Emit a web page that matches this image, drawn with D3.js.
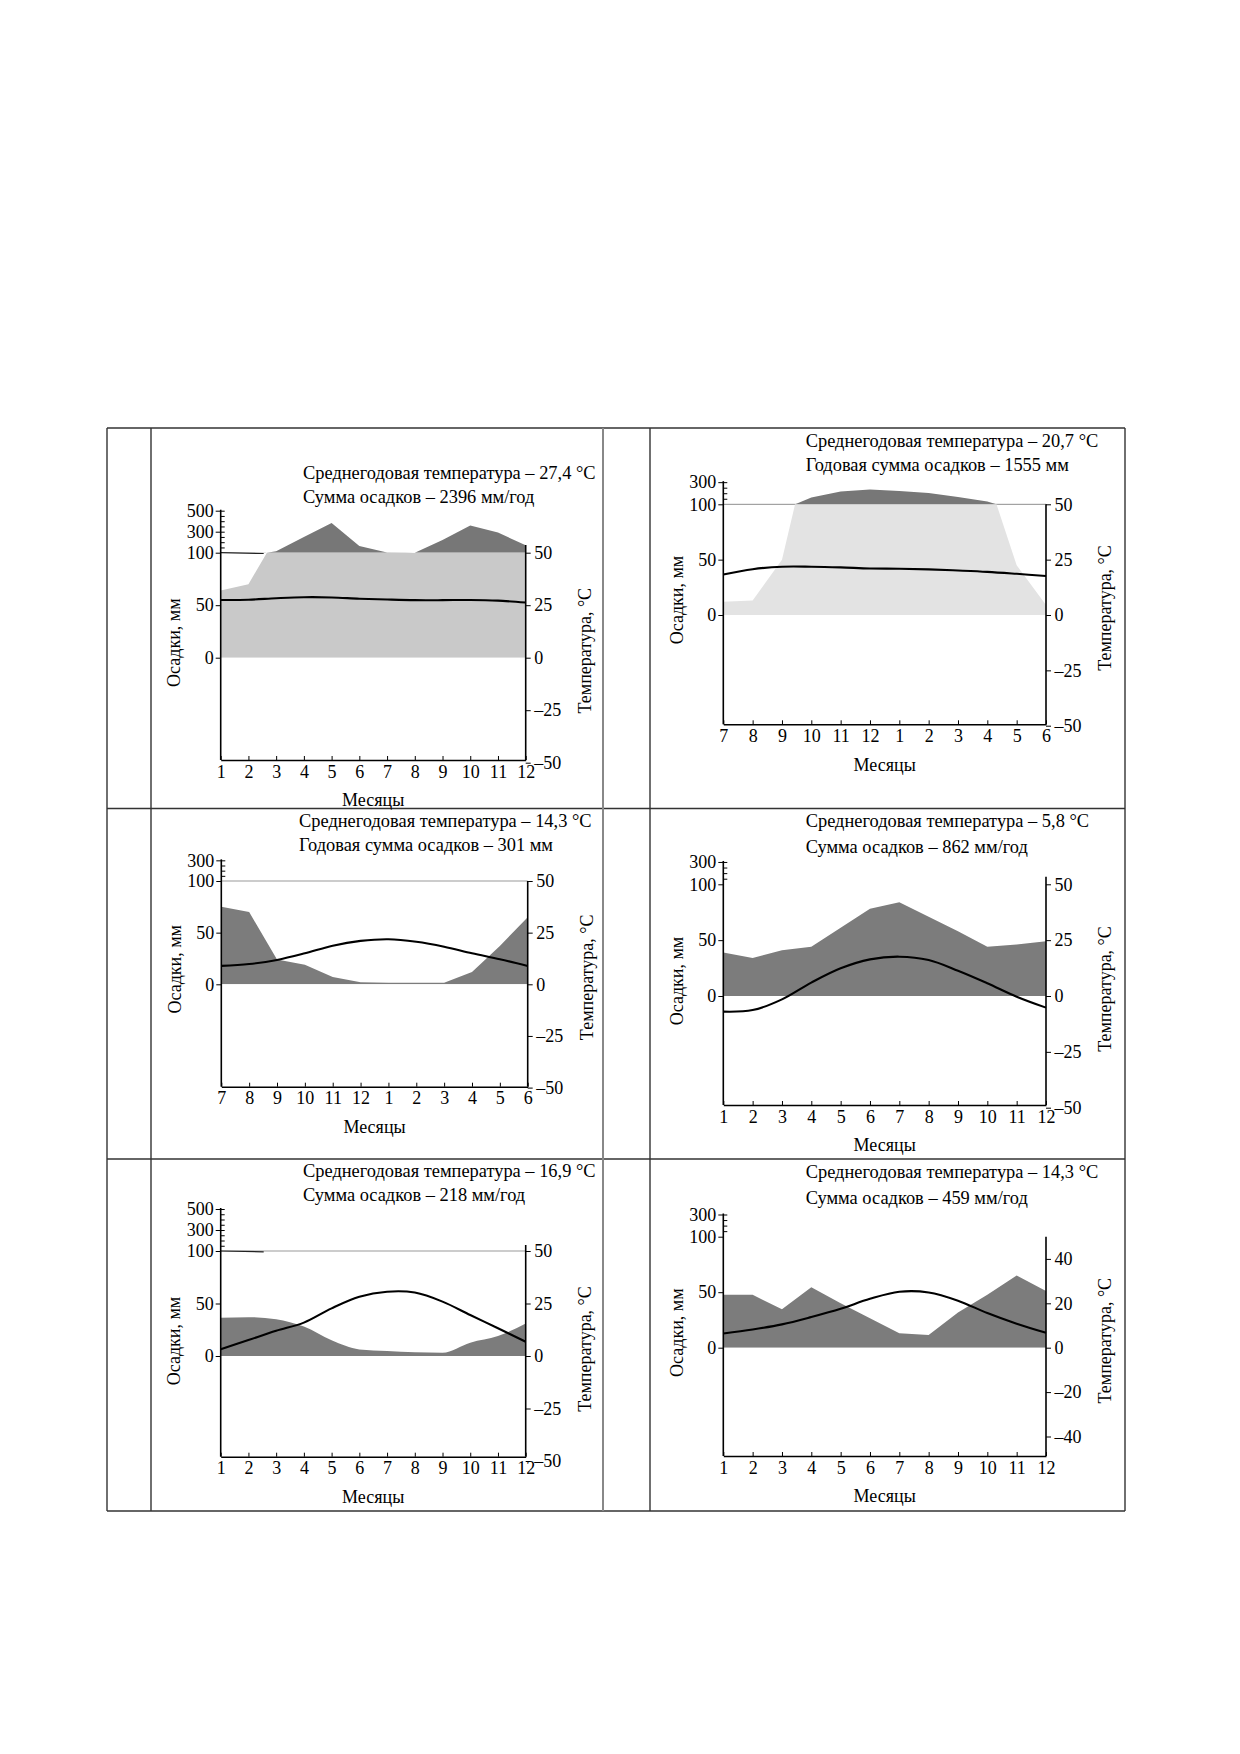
<!DOCTYPE html>
<html>
<head>
<meta charset="utf-8">
<script src="https://cdn.jsdelivr.net/npm/d3@7"></script>
<style>
  body { margin: 0; background: #fff; }
  svg text { font-family: "Liberation Serif", "Times New Roman", serif; fill: #000; }
  .title { font-size: 18.4px; }
  .axis-title { font-size: 18px; }
</style>
</head>
<body>
<svg id="chart" width="1240" height="1754"></svg>
<script>
// month order on the x axis
var monthsJanDec = [1, 2, 3, 4, 5, 6, 7, 8, 9, 10, 11, 12];
var monthsJulJun = [7, 8, 9, 10, 11, 12, 1, 2, 3, 4, 5, 6];

var titleTemp = [
  "Среднегодовая температура – 27,4 °C",
  "Среднегодовая температура – 20,7 °C",
  "Среднегодовая температура – 14,3 °C",
  "Среднегодовая температура – 5,8 °C",
  "Среднегодовая температура – 16,9 °C",
  "Среднегодовая температура – 14,3 °C"
];
var titleRain = [
  "Сумма осадков – 2396 мм/год",
  "Годовая сумма осадков – 1555 мм",
  "Годовая сумма осадков – 301 мм",
  "Сумма осадков – 862 мм/год",
  "Сумма осадков – 218 мм/год",
  "Сумма осадков – 459 мм/год"
];

// precipitation, mm (in the order of the month labels)
var rain1 = [64, 70, 115, 250, 383, 163, 102, 100, 222, 358, 292, 170];
var rain2 = [12, 13, 50, 162, 215, 233, 220, 203, 165, 125, 45, 9];
var rain3 = [75, 70, 24, 19, 7, 2, 1.5, 1.5, 1.5, 12, 37, 65];
var rain4 = [39, 34, 41, 44, 61, 78, 84, 71, 58, 44, 46, 49];
var rain5 = [36.5, 37, 35, 28, 15, 6.3, 4.8, 3.5, 3.2, 12.7, 19, 31];
var rain6 = [47.6, 47.6, 34.6, 54.5, 40, 26.5, 13, 11.5, 31.6, 47.6, 65, 51];

// temperature, °C
var temp1 = [27.5, 27.6, 28.3, 28.8, 28.7, 28.1, 27.7, 27.4, 27.4, 27.5, 27.2, 26.3];
var temp2 = [18.3, 20.7, 21.8, 21.8, 21.5, 21.0, 20.9, 20.6, 20.1, 19.5, 18.6, 17.6];
var temp3 = [8.9, 9.8, 11.8, 15.0, 18.7, 21.0, 21.8, 20.6, 18.2, 15.0, 12.1, 8.9];
var temp4 = [-7.0, -6.3, -1.5, 6.0, 12.4, 16.4, 17.6, 16.1, 11.3, 5.7, -0.3, -5.2];
var temp5 = [3.2, 7.6, 12.0, 15.9, 22.7, 28.2, 30.6, 30.2, 25.9, 19.5, 13.2, 6.8];
var temp6 = [6.4, 8.2, 10.5, 13.8, 17.5, 22.0, 25.2, 24.9, 21.2, 15.6, 10.8, 6.7];

var rainTicks500 = [0, 50, 100, 300, 500];
var rainTicks300 = [0, 50, 100, 300];
var tempTicks25 = [50, 25, 0, -25, -50];
var tempTicks20 = [40, 20, 0, -20, -40];

var labelRain = "Осадки, мм";
var labelTemp = "Температура, °C";
var labelMonth = "Месяцы";

var panelData = [
  { months: monthsJanDec, rain: rain1, temp: temp1, rTicks: rainTicks500, tTicks: tempTicks25 },
  { months: monthsJulJun, rain: rain2, temp: temp2, rTicks: rainTicks300, tTicks: tempTicks25 },
  { months: monthsJulJun, rain: rain3, temp: temp3, rTicks: rainTicks300, tTicks: tempTicks25 },
  { months: monthsJanDec, rain: rain4, temp: temp4, rTicks: rainTicks300, tTicks: tempTicks25 },
  { months: monthsJanDec, rain: rain5, temp: temp5, rTicks: rainTicks500, tTicks: tempTicks25 },
  { months: monthsJanDec, rain: rain6, temp: temp6, rTicks: rainTicks300, tTicks: tempTicks20 }
];

// page layout of each little chart
var layout = [
  { left: 220.7, right: 525.7, y0: 657.7, k: 1.05, bottom: 760, rTop: 545, tx: 303, ty: 472.7, gap: 23.4, low: "#c9c9c9", line100: false, stub: 1.55, smooth: false },
  { left: 723.3, right: 1046, y0: 615, k: 1.107, bottom: 724.3, rTop: 504.3, tx: 805.7, ty: 440.7, gap: 24.3, low: "#e3e3e3", line100: true, stub: 0, smooth: false },
  { left: 221.3, right: 527.7, y0: 984.3, k: 1.033, bottom: 1086.7, rTop: 881, tx: 299, ty: 820.7, gap: 23.6, low: "#7c7c7c", line100: true, stub: 0, smooth: false },
  { left: 723.3, right: 1046, y0: 996, k: 1.117, bottom: 1105, rTop: 876.7, tx: 805.7, ty: 820.7, gap: 26, low: "#7c7c7c", line100: false, stub: 0, smooth: false },
  { left: 220.7, right: 525.7, y0: 1356, k: 1.05, bottom: 1456.7, rTop: 1245, tx: 303, ty: 1170.7, gap: 23.6, low: "#7c7c7c", line100: true, stub: 1.55, smooth: true },
  { left: 723.3, right: 1046, y0: 1347.7, k: 1.11, bottom: 1456, rTop: 1236.7, tx: 805.7, ty: 1171.7, gap: 25.6, low: "#7c7c7c", line100: false, stub: 0, smooth: false }
];

var highColor = "#777";
var tickFont = "'Liberation Serif', 'Times New Roman', serif";

var svg = d3.select("#chart");

// table frame
var rowLines = [428, 808.5, 1159, 1511];
var colLines = [107, 151, 603, 650, 1125];
var frame = svg.append("g").attr("class", "frame");
frame.selectAll(".hline").data(rowLines).enter().append("line")
  .attr("x1", colLines[0]).attr("x2", colLines[colLines.length - 1])
  .attr("y1", function(d) { return d; }).attr("y2", function(d) { return d; })
  .style("stroke", "#333").style("stroke-width", 1.4);
frame.selectAll(".vline").data(colLines).enter().append("line")
  .attr("x1", function(d) { return d; }).attr("x2", function(d) { return d; })
  .attr("y1", rowLines[0]).attr("y2", rowLines[rowLines.length - 1])
  .style("stroke", function(d, i) { return i == 2 ? "#888" : "#333"; })
  .style("stroke-width", function(d, i) { return i == 2 ? 2 : 1.4; });

function tempFormat(d) {
  return d < 0 ? "–" + (-d) : "" + d;
}

function styleAxis(sel) {
  sel.attr("font-size", 18).attr("font-family", tickFont);
  sel.selectAll(".tick text").style("font-size", "18px");
  sel.selectAll(".tick line").style("stroke", "#000");
}

panelData.forEach(function(D, i) {
  var L = layout[i];
  var g = svg.append("g").attr("class", "panel");

  var top = d3.max(D.rTicks);
  var y100 = L.y0 - 100 * L.k;
  var yTop = y100 - (top - 100) * L.k / 10;

  var x = d3.scaleLinear().domain([0, 11]).range([L.left, L.right]);
  // 0..100 mm linear, above 100 mm compressed ten times
  var yRain = d3.scaleLinear().domain([0, 100, top]).range([L.y0, y100, yTop]);
  var yLow = d3.scaleLinear().domain([0, 100]).range([L.y0, y100]);
  var yHigh = d3.scaleLinear().domain([100, 200]).range([y100, y100 - 10 * L.k]);
  var yTemp = d3.scaleLinear().domain([-50, 50]).range([L.y0 + 100 * L.k, y100]);

  var curve = L.smooth ? d3.curveMonotoneX : d3.curveLinear;

  var defs = g.append("defs");
  defs.append("clipPath").attr("id", "low" + i).append("rect")
    .attr("x", L.left).attr("y", y100)
    .attr("width", L.right - L.left).attr("height", L.y0 - y100);
  defs.append("clipPath").attr("id", "high" + i).append("rect")
    .attr("x", L.left).attr("y", yTop - 10)
    .attr("width", L.right - L.left).attr("height", y100 - yTop + 10);

  if (L.line100) {
    g.append("line")
      .attr("x1", L.left).attr("x2", L.right)
      .attr("y1", y100).attr("y2", y100)
      .style("stroke", "#999").style("stroke-width", 1);
  }

  var areaLow = d3.area()
    .x(function(d, j) { return x(j); })
    .y0(yLow(0))
    .y1(function(d) { return yLow(d); })
    .curve(curve);
  var areaHigh = d3.area()
    .x(function(d, j) { return x(j); })
    .y0(y100)
    .y1(function(d) { return yHigh(d); })
    .curve(curve);

  g.append("path").datum(D.rain)
    .attr("d", areaLow)
    .attr("clip-path", "url(#low" + i + ")")
    .style("fill", L.low);
  if (d3.max(D.rain) > 100) {
    g.append("path").datum(D.rain)
      .attr("d", areaHigh)
      .attr("clip-path", "url(#high" + i + ")")
      .style("fill", highColor);
  }

  if (L.stub) {
    g.append("line")
      .attr("x1", x(0)).attr("x2", x(L.stub))
      .attr("y1", y100).attr("y2", y100 + 0.8)
      .style("stroke", "#222").style("stroke-width", 1.2);
  }

  // temperature curve
  var tLine = d3.line()
    .x(function(d, j) { return x(j); })
    .y(function(d) { return yTemp(d); })
    .curve(d3.curveCatmullRom);
  g.append("path").datum(D.temp)
    .attr("d", tLine)
    .style("fill", "none").style("stroke", "#000").style("stroke-width", 2.1);

  // axis lines
  g.append("line").attr("x1", L.left).attr("x2", L.left)
    .attr("y1", yTop - 1).attr("y2", L.bottom)
    .style("stroke", "#000").style("stroke-width", 1.6);
  g.append("line").attr("x1", L.right).attr("x2", L.right)
    .attr("y1", L.rTop).attr("y2", L.bottom)
    .style("stroke", "#000").style("stroke-width", 1.6);

  var xAxis = g.append("g")
    .attr("transform", "translate(0," + L.bottom + ")")
    .call(d3.axisBottom(x)
      .tickValues(d3.range(12))
      .tickFormat(function(j) { return D.months[j]; })
      .tickSizeInner(-4).tickSizeOuter(0).tickPadding(5));
  xAxis.select(".domain").style("stroke-width", 1.6);
  styleAxis(xAxis);

  var leftAxis = g.append("g")
    .attr("transform", "translate(" + L.left + ",0)")
    .call(d3.axisLeft(yRain).tickValues(D.rTicks).tickSize(5).tickPadding(2));
  leftAxis.select(".domain").remove();
  styleAxis(leftAxis);

  var minor = g.append("g")
    .attr("transform", "translate(" + L.left + ",0)")
    .call(d3.axisRight(yRain).tickValues(d3.range(150, top + 1, 50)).tickSize(4).tickFormat(""));
  minor.select(".domain").remove();
  styleAxis(minor);

  var rightAxis = g.append("g")
    .attr("transform", "translate(" + L.right + ",0)")
    .call(d3.axisRight(yTemp).tickValues(D.tTicks).tickSize(5).tickPadding(3.5).tickFormat(tempFormat));
  rightAxis.select(".domain").remove();
  styleAxis(rightAxis);

  // captions
  g.append("text").attr("class", "title")
    .attr("x", L.tx).attr("y", L.ty).attr("dy", "0.35em")
    .text(titleTemp[i]);
  g.append("text").attr("class", "title")
    .attr("x", L.tx).attr("y", L.ty + L.gap).attr("dy", "0.35em")
    .text(titleRain[i]);

  g.append("text").attr("class", "axis-title")
    .attr("text-anchor", "middle")
    .attr("transform", "translate(" + ((L.left + L.right) / 2) + "," + (L.bottom + 40) + ")")
    .attr("dy", "0.35em")
    .text(labelMonth);
  g.append("text").attr("class", "axis-title")
    .attr("text-anchor", "middle")
    .attr("transform", "translate(" + (L.left - 47) + "," + (L.y0 - 15) + ") rotate(-90)")
    .attr("dy", "0.35em")
    .text(labelRain);
  g.append("text").attr("class", "axis-title")
    .attr("text-anchor", "middle")
    .attr("transform", "translate(" + (L.right + 59) + "," + (L.y0 - 7) + ") rotate(-90)")
    .attr("dy", "0.35em")
    .text(labelTemp);
});
</script>
</body>
</html>
